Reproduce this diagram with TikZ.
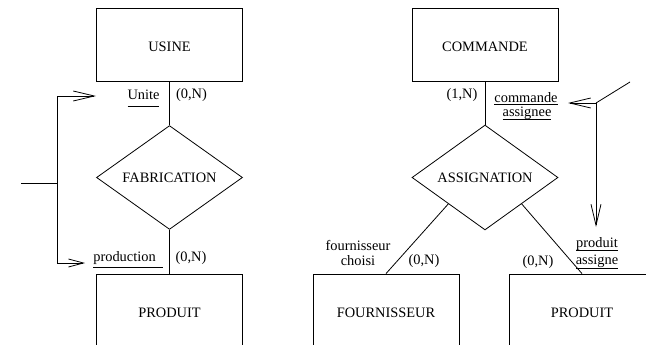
\documentclass[tikz,border=0pt]{standalone}
\usepackage{fontspec}
\setmainfont{Liberation Serif}
\usetikzlibrary{shapes.geometric,arrows.meta}
% underlined role name: [rule depth][extra rule length]{text}
\NewDocumentCommand\ulin{O{4.5pt} O{0pt} m}{%
  \setbox0\hbox{#3}%
  \rlap{\rule[-#1]{\dimexpr\wd0+#2\relax}{0.7pt}}\box0}
\begin{document}
\begin{tikzpicture}[x=1pt,y=-1pt,line width=0.8pt,
  font=\fontsize{14.4}{17}\selectfont,
  entity/.style={draw,rectangle,minimum width=146pt,minimum height=73pt,
    text height=14.5pt,text depth=0pt,inner sep=0pt},
  relation/.style={draw,diamond,minimum width=146pt,minimum height=97pt,inner sep=0pt},
  lbl/.style={anchor=base,inner sep=0pt},
  barb/.style={-{Straight Barb[length=21pt,width=10pt]}},
  barbshort/.style={-{Straight Barb[length=15pt,width=8pt]}}]
\useasboundingbox (0,0) rectangle (646,345);
\clip (0,0) rectangle (646,345);

% entities and relationships
\node[entity]   (usine) at (169.5,44.5)  {USINE};
\node[relation] (fab)   at (169.5,177.5) {FABRICATION};
\node[entity]   (prod1) at (169.5,310.5) {PRODUIT};
\node[entity]   (cmd)   at (485,44.5)    {COMMANDE};
\node[relation] (asg)   at (485,177.5)   {ASSIGNATION};
\node[entity]   (four)  at (386,310.5)   {FOURNISSEUR};
\node[entity]   (prod2) at (582,310.5)   {PRODUIT};

% links
\draw (usine) -- (fab);
\draw (fab) -- (prod1);
\draw (cmd) -- (asg);
\draw (asg.south west) -- (four.north);
\draw (asg.south east) -- (prod2.north);

% roles and cardinalities
\node[lbl] (unite)   at (143.5,99.8) {\ulin[6.5pt]{Unite}};
\node[lbl] (cardU)   at (191.5,98.5) {(0,N)};
\node[lbl] (prodn)   at (124.5,261)  {\ulin[7pt][7pt]{production}};
\node[lbl] (cardP)   at (191,261.5)  {(0,N)};
\node[lbl] (cardC)   at (462,98.5)   {(1,N)};
\node[lbl] (cmdA)    at (526,102.5)  {\ulin[2.5pt]{commande}};
\node[lbl] (cmdB)    at (527,116.5)  {\ulin[3.5pt]{assignee}};
\node[lbl] (fourA)   at (358,250)    {fournisseur};
\node[lbl] (fourB)   at (358,265.5)  {choisi};
\node[lbl] (cardF)   at (424,264.5)  {(0,N)};
\node[lbl] (cardR)   at (538,265.5)  {(0,N)};
\node[lbl] (prodA)   at (597,247)    {\ulin[4pt]{produit}};
\node[lbl] (prodB)   at (597,264)    {\ulin[5pt]{assigne}};

% fork towards the two roles of FABRICATION
\coordinate (bin)  at (21,183);
\coordinate (bj)   at (57,183);
\coordinate (tipU) at (96,96);
\coordinate (tipP) at (85,263);
\draw (bin) -- (bj);
\draw[barb] (bj) |- (tipU);
\draw[barbshort] (bj) |- (tipP);

% fork towards the roles of ASSIGNATION
\coordinate (rin)  at (630,82);
\coordinate (rj)   at (596,103);
\coordinate (tipC) at (568,103);
\coordinate (tipD) at (596,227);
\draw (rin) -- (rj);
\draw[barb] (rj) -- (tipC);
\draw[barb] (rj) -- (tipD);
\end{tikzpicture}
\end{document}
